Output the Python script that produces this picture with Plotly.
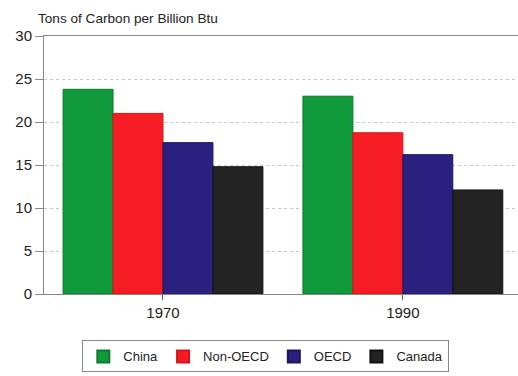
import plotly.graph_objects as go

years = ["1970", "1990"]
series_names = ["China", "Non-OECD", "OECD", "Canada"]
china = [23.8, 23.0]
non_oecd = [21.0, 18.75]
oecd = [17.6, 16.2]
canada = [14.8, 12.1]
y_ticks = [0, 5, 10, 15, 20, 25, 30]

colors = ["#119a3b", "#f51d23", "#2b2080", "#232323"]
edges = ["#0b7a2c", "#d41419", "#1d165e", "#111111"]
values = [china, non_oecd, oecd, canada]

fig = go.Figure()
for name, vals, c, e in zip(series_names, values, colors, edges):
    fig.add_trace(go.Bar(x=years, y=vals, name=name,
                         marker=dict(color=c, line=dict(color=e, width=1))))

fig.update_layout(
    width=518, height=376,
    margin=dict(l=44, r=0, t=36, b=82),
    paper_bgcolor="white", plot_bgcolor="white",
    barmode="group", bargap=0.167, bargroupgap=0.0,
    font=dict(family="Liberation Sans, Arial, sans-serif", size=13, color="#222"),
    title=dict(text="Tons of Carbon per Billion Btu", x=38/518, xanchor="left",
               y=1 - 18/376, yanchor="middle", font=dict(size=13.6, color="#222")),
    showlegend=True,
    legend=dict(orientation="h", x=0.468, xanchor="center", y=-0.18, yanchor="top",
                bordercolor="#888", borderwidth=1, font=dict(size=13),
                itemwidth=30, tracegroupgap=0, itemsizing="constant"),
)
fig.update_xaxes(range=[-0.496, 1.48], showline=True, mirror=True, linecolor="#888",
                 linewidth=1, ticks="outside", ticklen=5, tickcolor="#666",
                 showgrid=False, tickfont=dict(size=15, color="#222"))
fig.update_yaxes(range=[0, 30], tickvals=y_ticks, showline=True, linecolor="#888",
                 linewidth=1, ticks="outside", ticklen=8, tickcolor="#888",
                 showgrid=True, gridcolor="#c8c8c8", griddash="dot", gridwidth=1,
                 zeroline=False, tickfont=dict(size=15, color="#222"))

fig.write_html("out.html")
